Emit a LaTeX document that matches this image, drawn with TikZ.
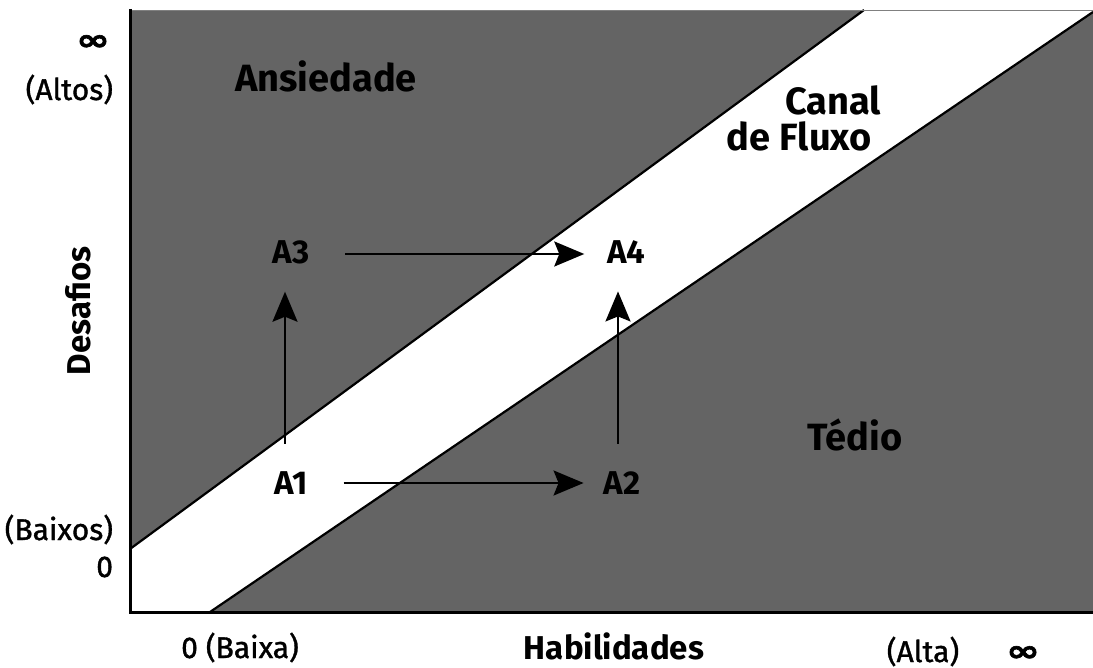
\documentclass[tikz,border=0pt]{standalone}
\usepackage{fontspec}
\usepackage{graphicx}
\setmainfont{Fira Sans}
\newfontfamily\medf{Fira Sans}[FakeBold=1.2]
\newfontfamily\symf{DejaVu Sans}[UprightFont={* Bold}, FakeBold=2]
\usetikzlibrary{arrows.meta,calc}
\definecolor{zone}{RGB}{100,100,100}
\newcommand{\infsym}{\scalebox{1.3}[0.95]{\symf ∞}}
\begin{document}
\begin{tikzpicture}[x=1pt,y=-1pt,
  every node/.style={inner sep=0pt, outer sep=0pt},
  zonelabel/.style={font=\fontsize{38}{40}\selectfont\bfseries},
  axistitle/.style={font=\fontsize{33}{36}\selectfont\bfseries},
  axislabel/.style={font=\fontsize{30}{32}\selectfont\medf},
  inflabel/.style={font=\fontsize{31}{33}\selectfont, text height=18pt, text depth=0pt},
  statelabel/.style={font=\fontsize{33}{35}\selectfont\bfseries},
  arr/.style={line width=2.2pt, -{Stealth[length=30pt,width=25pt,inset=5pt]}},
  boundary/.style={line width=2.2pt}]
\useasboundingbox (0,0) rectangle (1093,668);
% regions
\fill[zone] (130,10) rectangle (1093,612);
\fill[white] (130,549) -- (864,10) -- (1093,10) -- (1093,12) -- (210,612) -- (130,612) -- cycle;
\draw[boundary] (130,549) -- (864,10);
\draw[boundary] (210,612) -- (1093,12);
\draw[line width=0.6pt, gray] (130,10) -- (1093,10);
\draw[line width=3pt] (130,9) -- (130,612) -- (1093,612);
% zone labels
\node[zonelabel, anchor=base] (ans) at (326,92) {Ansiedade};
\node[zonelabel, anchor=base] (canal) at (833,115) {Canal};
\node[zonelabel, anchor=base east] (fluxo) at (872,151) {de Fluxo};
\node[zonelabel, anchor=base] (tedio) at (855,450) {Tédio};
% axis labels
\node[axistitle, rotate=90] (desafios) at (78,311) {Desafios};
\node[axistitle, anchor=base] (habil) at (614,659) {Habilidades};
\node[inflabel] (infy) at (93,41) {\infsym};
\node[axislabel, anchor=base east] (altos) at (113,100) {(Altos)};
\node[axislabel, anchor=base east] (baixos) at (113,540) {(Baixos)};
\node[axislabel, anchor=base east] (zeroy) at (113,577) {0};
\node[axislabel, anchor=base] (baixa) at (240,658) {0 (Baixa)};
\node[axislabel, anchor=base] (alta) at (923,662) {(Alta)};
\node[inflabel] (infx) at (1023,652) {\infsym};
% states
\node[statelabel] (A1) at (291,483) {A1};
\node[statelabel] (A2) at (622,483) {A2};
\node[statelabel] (A3) at (291,252) {A3};
\node[statelabel] (A4) at (626,252) {A4};
% transitions
\draw[arr, shorten <=36pt, shorten >=20pt] (A1.east) -- (A2.west);
\draw[arr, shorten <=36pt, shorten >=23pt] ([yshift=-2pt]A3.east) -- ([yshift=-2pt]A3.east -| A4.west);
\draw[arr, shorten <=28pt, shorten >=28pt] ([xshift=-6pt]A1.north) -- ([xshift=-6pt]A3.south);
\draw[arr, shorten <=28pt, shorten >=28pt] ([xshift=-4pt]A2.north) -- ([xshift=-4pt]A2.north |- A4.south);
\end{tikzpicture}
\end{document}
